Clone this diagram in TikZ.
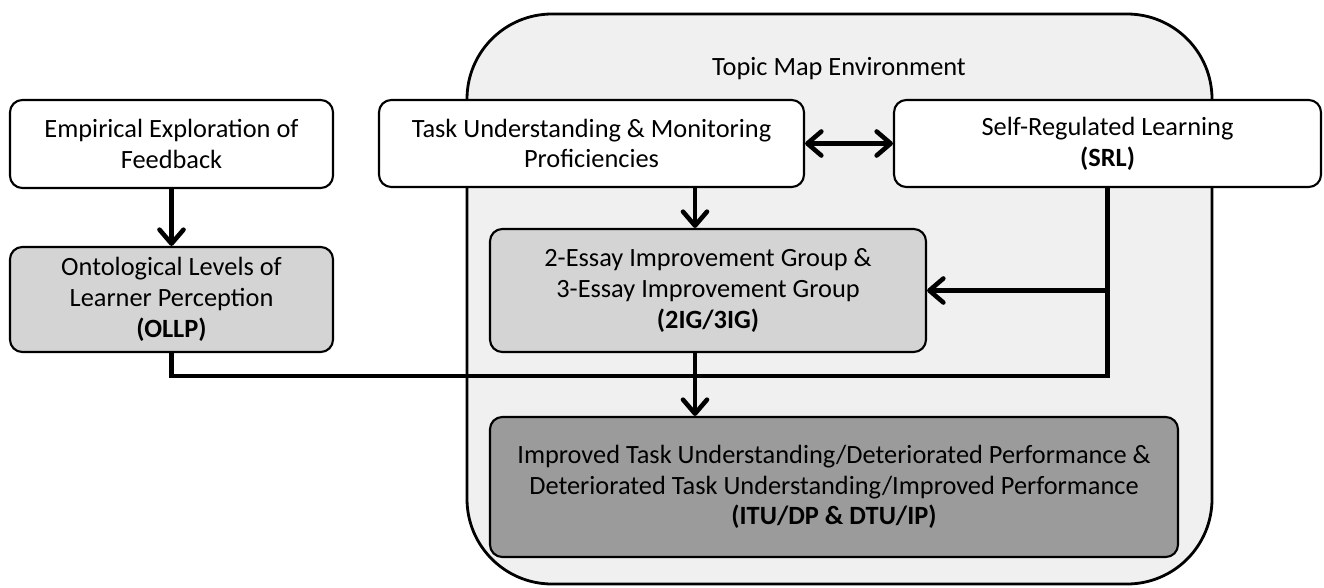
\documentclass[tikz,border=0pt]{standalone}
\usepackage{fontspec}
\setmainfont{Carlito}
\definecolor{envgray}{RGB}{240, 240, 240}
\definecolor{stagegray}{RGB}{212, 212, 212}
\definecolor{outcomegray}{RGB}{155, 155, 155}
\usetikzlibrary{arrows.meta, positioning, calc}

\begin{document}
\begin{tikzpicture}[
  >={Straight Barb[length=0.28cm, width=0.48cm, round]},
  stagebox/.style={draw, line width=1.2pt, rounded corners=7pt, align=center,
    inner sep=0pt, font=\fontsize{15}{17.5}\selectfont},
  flow/.style={line width=2.6pt, ->},
  link/.style={line width=2.6pt}
]
  \useasboundingbox (0, 0) rectangle (26.48, 11.74);

  % Environment frame
  \node[draw, line width=1.6pt, fill=envgray, rounded corners=1.7cm,
    minimum width=14.9cm, minimum height=11.4cm] (env) at (16.79, 5.76) {};
  \node[font=\fontsize{15}{17.5}\selectfont] (envtitle) at (16.78, 10.36) {Topic Map Environment};

  % Top row
  \node[stagebox, fill=white, minimum width=6.46cm, minimum height=1.76cm] (explore) at (3.43, 8.86)
    {Empirical Exploration of\\Feedback};
  \node[stagebox, fill=white, minimum width=8.5cm, minimum height=1.74cm] (task) at (11.83, 8.87)
    {Task Understanding \& Monitoring\\Proficiencies};
  \node[stagebox, fill=white, minimum width=8.54cm, minimum height=1.74cm] (srl) at (22.15, 8.87)
    {Self-Regulated Learning\\\textbf{(SRL)}};

  % Middle row
  \node[stagebox, fill=stagegray, minimum width=6.46cm, minimum height=2.1cm] (ollp) at (3.43, 5.75)
    {Ontological Levels of\\Learner Perception\\\textbf{(OLLP)}};
  \node[stagebox, fill=stagegray, minimum width=8.72cm, minimum height=2.46cm] (groups) at (14.16, 5.93)
    {2-Essay Improvement Group \&\\3-Essay Improvement Group\\\textbf{(2IG/3IG)}};

  % Outcome
  \node[stagebox, fill=outcomegray, minimum width=13.76cm, minimum height=2.8cm] (outcome) at (16.68, 2.0)
    {Improved Task Understanding/Deteriorated Performance \&\\Deteriorated Task Understanding/Improved Performance\\\textbf{(ITU/DP \& DTU/IP)}};

  % Junction on the lower line
  \coordinate (spine) at (13.9, 4.22);

  % Connectors
  \draw[flow] (explore) -- (ollp);
  \draw[flow, <->] (task.east) -- (srl.west);
  \draw[flow] (task.south -| spine) -- (groups.north -| spine);
  \draw[link] (ollp.south) |- (srl.south |- spine) -- (srl.south);
  \draw[flow] (srl.south |- groups.east) -- (groups.east);
  \draw[flow] (groups.south -| spine) -- (outcome.north -| spine);
\end{tikzpicture}
\end{document}
